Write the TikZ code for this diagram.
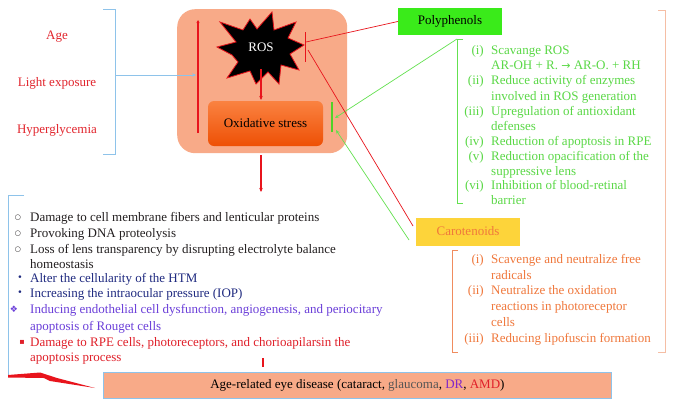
\documentclass[tikz,border=0pt]{standalone}
\usepackage{fontspec}
\setmainfont{Liberation Serif}
\newfontfamily\symfont{DejaVu Sans}
\usetikzlibrary{arrows.meta}
\definecolor{salmon}{RGB}{248,170,136}
\definecolor{lblue}{RGB}{142,195,234}
\definecolor{redl}{RGB}{232,20,28}
\definecolor{lblred}{RGB}{226,38,46}
\definecolor{polyg}{RGB}{58,235,26}
\definecolor{gtext}{RGB}{90,216,70}
\definecolor{gline}{RGB}{100,225,80}
\definecolor{gbar}{RGB}{80,210,40}
\definecolor{caroy}{RGB}{253,212,58}
\definecolor{otext}{RGB}{240,120,60}
\definecolor{oline}{RGB}{240,140,95}
\definecolor{paleo}{RGB}{245,190,165}
\definecolor{oxtop}{RGB}{250,130,65}
\definecolor{oxbot}{RGB}{238,80,5}
\definecolor{navy}{RGB}{31,42,128}
\definecolor{purp}{RGB}{107,63,217}
\definecolor{dred}{RGB}{224,32,42}
\definecolor{blk}{RGB}{35,31,32}
\definecolor{grey}{RGB}{85,85,85}
\definecolor{drpurp}{RGB}{130,40,200}
\tikzset{
  txt/.style={inner sep=0pt, font=\fontsize{13}{15}\selectfont},
  lt/.style={txt, anchor=base west},
  num/.style={txt, anchor=base east},
  bul/.style={inner sep=0pt, anchor=center},
  redline/.style={draw=redl, line width=1pt},
  blueline/.style={draw=lblue, line width=0.8pt},
  greenline/.style={draw=gline, line width=0.7pt},
  tip/.style={-{Stealth[length=4pt,width=3.5pt]}},
}
\begin{document}
\begin{tikzpicture}[x=1pt,y=-1pt]
\useasboundingbox (0,0) rectangle (674,407);
\fill[white] (0,0) rectangle (674,407);

% left causes
\node[txt, text=lblred, anchor=base] (age) at (57,39) {Age};
\node[txt, text=lblred, anchor=base] (light) at (57,86) {Light exposure};
\node[txt, text=lblred, anchor=base] (hyper) at (57,133) {Hyperglycemia};
\draw[blueline] (103,9) -- (115,9) -- (115,154) -- (103,154);
\coordinate (bkt) at (116,75);

% big box
\node[fill=salmon, rounded corners=18pt, minimum width=170pt, minimum height=144pt, anchor=north west, inner sep=0pt] (bigbox) at (177,9) {};
\coordinate (rlt) at (198,20);
\coordinate (rlb) at (198,133);
\draw[redline, line width=1.3pt, -{Stealth[length=3pt,width=3pt]}] (rlb) -- (rlt);
\coordinate (rlm) at (196,75);
\draw[blueline, tip] (bkt) -- (rlm);

% ROS burst
\draw[fill=black, draw=redl, line width=0.8pt]
 (217,47) -- (236,42) -- (220,22) -- (243,30) -- (250,19) -- (257,29) -- (272,12)
 -- (274,30) -- (296,22) -- (288,38) -- (304,45) -- (290,54) -- (299,70)
 -- (281,65) -- (279,84) -- (268,72) -- (256,84) -- (250,71) -- (227,78)
 -- (238,62) -- (232,55) -- cycle;
\node[txt, text=white] (ros) at (261,47) {ROS};

% oxidative stress
\node[txt, rounded corners=6pt, top color=oxtop, bottom color=oxbot, minimum width=115pt, minimum height=45pt] (ox) at (265.5,123.5) {Oxidative stress};
\coordinate (rosb) at (261,69);
\draw[redline, line width=1.3pt, tip] (rosb) -- (261,100);

% inhibition bars
\draw[draw=gbar, line width=2.6pt] (332,102) -- (332,132);
\coordinate (gbt) at (335,118);
\coordinate (gbb) at (336,130);
\coordinate (tbt) at (305,32);
\coordinate (tbb) at (305,62);
\draw[redline] (tbt) -- (tbb);
\coordinate (tbm) at (306,42);
\coordinate (tbs) at (308,50);

% Polyphenols
\node[txt, fill=polyg, minimum width=104pt, minimum height=27pt] (poly) at (450,21.5) {Polyphenols};
\draw[redl, line width=0.7pt] (poly.west) -- (tbm);
\coordinate (gb1) at (463,39);
\coordinate (gb0) at (457,39);
\coordinate (gb2) at (457,203);
\coordinate (gb3) at (463,203);
\draw[greenline] (gb1) -- (gb0) -- (gb2) -- (gb3);
\draw[greenline, tip] (gb0) -- (gbt);

% green list
\begin{scope}[every node/.append style={text=gtext}]
\node[num] (gn1) at (484,54) {(i)};
\node[lt] (gt1) at (491,54) {Scavange ROS};
\node[lt] (gt1b) at (491,69) {AR-OH + R. {\symfont\fontsize{11}{13}\selectfont →} AR-O. + RH};
\node[num] (gn2) at (484,84.5) {(ii)};
\node[lt] (gt2) at (491,84.5) {Reduce activity of enzymes};
\node[lt] (gt2b) at (491,100) {involved in ROS generation};
\node[num] (gn3) at (484,115) {(iii)};
\node[lt] (gt3) at (491,115) {Upregulation of antioxidant};
\node[lt] (gt3b) at (491,130) {defenses};
\node[num] (gn4) at (484,145.5) {(iv)};
\node[lt] (gt4) at (491,145.5) {Reduction of apoptosis in RPE};
\node[num] (gn5) at (484,160) {(v)};
\node[lt] (gt5) at (491,160) {Reduction opacification of the};
\node[lt] (gt5b) at (491,175.5) {suppressive lens};
\node[num] (gn6) at (484,189.5) {(vi)};
\node[lt] (gt6) at (491,189.5) {Inhibition of blood-retinal};
\node[lt] (gt6b) at (491,204.5) {barrier};
\end{scope}

% Carotenoids
\node[txt, fill=caroy, text=otext, minimum width=104pt, minimum height=28pt] (caro) at (468,231.5) {Carotenoids};
\coordinate (cr) at (413,226);
\coordinate (cg) at (409,240);
\draw[redl, line width=0.7pt] (tbs) -- (cr);
\draw[greenline, tip] (cg) -- (gbb);

\coordinate (ob1) at (458,250);
\coordinate (ob0) at (452,250);
\coordinate (ob2) at (452,352);
\coordinate (ob3) at (458,352);
\draw[draw=oline, line width=0.7pt] (ob1) -- (ob0) -- (ob2) -- (ob3);
\begin{scope}[every node/.append style={text=otext}]
\node[num] (on1) at (484,263) {(i)};
\node[lt] (ot1) at (491,263) {Scavenge and neutralize free};
\node[lt] (ot1b) at (491,279) {radicals};
\node[num] (on2) at (484,294.5) {(ii)};
\node[lt] (ot2) at (491,294.5) {Neutralize the oxidation};
\node[lt] (ot2b) at (491,310) {reactions in photoreceptor};
\node[lt] (ot2c) at (491,326) {cells};
\node[num] (on3) at (484,342) {(iii)};
\node[lt] (ot3) at (491,342) {Reducing lipofuscin formation};
\end{scope}

% right pale bracket
\coordinate (pb1) at (658,10);
\coordinate (pb0) at (665,10);
\coordinate (pb2) at (665,352);
\coordinate (pb3) at (658,352);
\draw[draw=paleo, line width=0.7pt] (pb1) -- (pb0) -- (pb2) -- (pb3);

% arrow down from big box
\coordinate (bbb) at (261,155);
\draw[redline, line width=1.3pt, tip] (bbb) -- (261,192);

% middle list bracket
\coordinate (mb1) at (24,195);
\coordinate (mb0) at (8,195);
\coordinate (mb2) at (8,375);
\draw[blueline] (mb1) -- (mb0) -- (mb2);

% middle list
\node[bul, text=blk] (b1) at (18,218) {\symfont\fontsize{7}{9}\selectfont ○};
\node[lt, text=blk] (m1) at (30,221) {Damage to cell membrane fibers and lenticular proteins};
\node[bul, text=blk] (b2) at (18,234) {\symfont\fontsize{7}{9}\selectfont ○};
\node[lt, text=blk] (m2) at (30,237) {Provoking DNA proteolysis};
\node[bul, text=blk] (b3) at (18,250) {\symfont\fontsize{7}{9}\selectfont ○};
\node[lt, text=blk] (m3) at (30,253) {Loss of lens transparency by disrupting electrolyte balance};
\node[lt, text=blk] (m3b) at (30,268) {homeostasis};
\node[bul, text=navy] (b4) at (20,278.5) {\symfont\fontsize{9}{10}\selectfont •};
\node[lt, text=navy] (m4) at (30,282) {Alter the cellularity of the HTM};
\node[bul, text=navy] (b5) at (20,293.5) {\symfont\fontsize{9}{10}\selectfont •};
\node[lt, text=navy] (m5) at (30,297) {Increasing the intraocular pressure (IOP)};
\node[bul, text=purp] (b6) at (14,309) {\symfont\fontsize{9}{10}\selectfont ❖};
\node[lt, text=purp] (m6) at (30,313) {Inducing endothelial cell dysfunction, angiogenesis, and periocitary};
\node[lt, text=purp] (m6b) at (30,330) {apoptosis of Rouget cells};
\node[bul, text=dred] (b7) at (22,342.5) {\symfont\fontsize{8}{10}\selectfont ▪};
\node[lt, text=dred] (m7) at (30,346) {Damage to RPE cells, photoreceptors, and chorioapilarsin the};
\node[lt, text=dred] (m7b) at (30,361) {apoptosis process};

% small red bar
\draw[redline, line width=1.5pt] (263,358) -- (263,367);

% lightning arrow
\fill[redl] (8,375) -- (40,372.5) -- (57,378) -- (95,388) -- (50,381) -- (44,378) -- (8,377.5) -- cycle;

% bottom box
\node[txt, fill=salmon, draw=lblue, line width=0.8pt, minimum width=508pt, minimum height=26pt, anchor=north west] (disease) at (103,372) {Age-related eye disease (cataract, \textcolor{grey}{glaucoma}, \textcolor{drpurp}{DR}, \textcolor{dred}{AMD})};
\end{tikzpicture}
\end{document}
